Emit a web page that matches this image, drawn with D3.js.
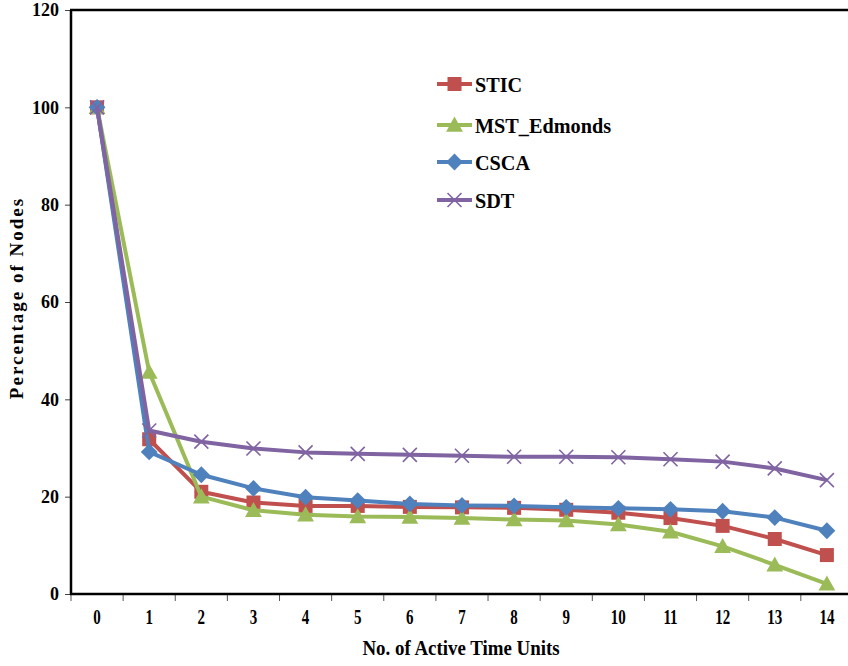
<!DOCTYPE html>
<html>
<head>
<meta charset="utf-8">
<script src="https://cdn.jsdelivr.net/npm/d3@7"></script>
<style>
  html, body { margin: 0; padding: 0; background: #fff; }
  svg { display: block; }
  text { font-family: "Liberation Serif", "Times New Roman", serif; font-weight: bold; fill: #000; }
</style>
</head>
<body>
<svg id="chart" width="848" height="666"></svg>
<script>
const categories = ["0","1","2","3","4","5","6","7","8","9","10","11","12","13","14"];
const stic = [100, 31.8, 21.0, 18.8, 18.1, 18.1, 17.9, 17.8, 17.7, 17.3, 16.7, 15.6, 14.0, 11.3, 8.0];
const mstEdmonds = [100, 45.6, 20.0, 17.2, 16.3, 15.9, 15.8, 15.6, 15.3, 15.1, 14.3, 12.8, 9.8, 6.0, 2.1];
const csca = [100, 29.2, 24.5, 21.7, 19.9, 19.2, 18.5, 18.2, 18.1, 17.8, 17.6, 17.4, 17.0, 15.7, 13.0];
const sdt = [100, 33.6, 31.3, 29.9, 29.1, 28.8, 28.6, 28.4, 28.2, 28.2, 28.1, 27.7, 27.2, 25.8, 23.4];
const seriesNames = ["STIC", "MST_Edmonds", "CSCA", "SDT"];
const yTicks = [0, 20, 40, 60, 80, 100, 120];

const colors = {STIC: "#C0504D", MST_Edmonds: "#9BBB59", CSCA: "#4F81BD", SDT: "#8064A2"};
const symbols = {STIC: "square", MST_Edmonds: "triangle", CSCA: "diamond", SDT: "cross"};
const seriesData = [
  {name: "STIC", values: stic},
  {name: "MST_Edmonds", values: mstEdmonds},
  {name: "CSCA", values: csca},
  {name: "SDT", values: sdt}
];

const svg = d3.select("#chart");
const mLeft = 71, mTop = 10, mBottom = 594, bandW = 52.13;
const mRight = mLeft + bandW * categories.length;

const x = d3.scaleBand().domain(categories).range([mLeft, mRight]).paddingInner(0).paddingOuter(0);
const y = d3.scaleLinear().domain([0, 120]).range([mBottom, mTop]);
const cx = c => x(c) + x.bandwidth() / 2;

// Y axis
const yAxis = d3.axisLeft(y).tickValues(yTicks).tickSize(6).tickPadding(6).tickFormat(d3.format("d"));
const gy = svg.append("g").attr("transform", `translate(${mLeft},0)`).call(yAxis);
gy.select(".domain").remove();
gy.selectAll(".tick line").attr("stroke", "#444").attr("stroke-width", 1);
gy.selectAll(".tick text").attr("font-size", 18).attr("font-family", "Liberation Serif").attr("font-weight", "bold").attr("fill", "#000");

// X axis labels
const xAxis = d3.axisBottom(x).tickSize(0).tickPadding(16);
const gx = svg.append("g").attr("transform", `translate(0,${mBottom})`).call(xAxis);
gx.select(".domain").remove();
gx.selectAll(".tick text").attr("font-size", 20).attr("font-family", "Liberation Serif").attr("font-weight", "bold")
  .attr("fill", "#000").attr("transform", "scale(0.75,1)");
// x ticks at band boundaries
const boundaries = categories.map(c => x(c)).concat([mRight]);
svg.append("g").selectAll("line").data(boundaries).join("line")
  .attr("x1", d => d).attr("x2", d => d).attr("y1", mBottom).attr("y2", mBottom + 7)
  .attr("stroke", "#555").attr("stroke-width", 1);

// plot frame: left, bottom, top
svg.append("line").attr("x1", mLeft).attr("x2", mLeft).attr("y1", mTop).attr("y2", mBottom + 1)
  .attr("stroke", "#000").attr("stroke-width", 2.5);
svg.append("line").attr("x1", mLeft - 1).attr("x2", 848).attr("y1", mBottom).attr("y2", mBottom)
  .attr("stroke", "#000").attr("stroke-width", 2.5);
svg.append("line").attr("x1", mLeft - 1).attr("x2", 848).attr("y1", mTop).attr("y2", mTop)
  .attr("stroke", "#000").attr("stroke-width", 2.5);

// axis titles
svg.append("text").attr("x", 461).attr("y", 655).attr("text-anchor", "middle")
  .attr("font-size", 21).text("No. of Active Time Units")
  .attr("transform", "translate(461,0) scale(0.9,1) translate(-461,0)");
svg.append("text").attr("transform", "translate(23,298) rotate(-90)").attr("text-anchor", "middle")
  .attr("font-size", 19).attr("letter-spacing", 2).text("Percentage of Nodes");

// series
const line = d3.line().x((d, i) => cx(categories[i])).y(d => y(d));

function drawMarker(g, type, color, size) {
  if (type === "square") {
    g.append("rect").attr("x", -size / 2).attr("y", -size / 2).attr("width", size).attr("height", size).attr("fill", color);
  } else if (type === "triangle") {
    const s = size * 0.6;
    g.append("path").attr("d", `M0,${-s} L${s},${s * 0.8} L${-s},${s * 0.8} Z`).attr("fill", color);
  } else if (type === "diamond") {
    const s = size * 0.6;
    g.append("path").attr("d", `M0,${-s} L${s},0 L0,${s} L${-s},0 Z`).attr("fill", color);
  } else if (type === "cross") {
    const s = size * 0.5;
    g.append("path").attr("d", `M${-s},${-s} L${s},${s} M${-s},${s} L${s},${-s}`)
      .attr("stroke", color).attr("stroke-width", 1.6).attr("fill", "none");
  }
}

seriesData.forEach(s => {
  const g = svg.append("g");
  g.append("path").datum(s.values).attr("d", line).attr("fill", "none")
    .attr("stroke", colors[s.name]).attr("stroke-width", 4).attr("stroke-linejoin", "round");
  s.values.forEach((v, i) => {
    const mg = g.append("g").attr("transform", `translate(${cx(categories[i])},${y(v)})`);
    drawMarker(mg, symbols[s.name], colors[s.name], 14);
  });
});

// legend
const legendRows = [84, 125, 162, 200];
seriesNames.forEach((name, i) => {
  const g = svg.append("g").attr("transform", `translate(437,${legendRows[i]})`);
  g.append("line").attr("x1", 0).attr("x2", 35).attr("y1", 0).attr("y2", 0)
    .attr("stroke", colors[name]).attr("stroke-width", 4);
  const mg = g.append("g").attr("transform", "translate(17.5,0)");
  drawMarker(mg, symbols[name], colors[name], 14);
  g.append("text").attr("x", 38).attr("y", 0).attr("dy", "0.35em").attr("font-size", 22)
    .attr("transform", "translate(38,0) scale(0.92,1) translate(-38,0)")
    .text(name);
});
</script>
</body>
</html>
